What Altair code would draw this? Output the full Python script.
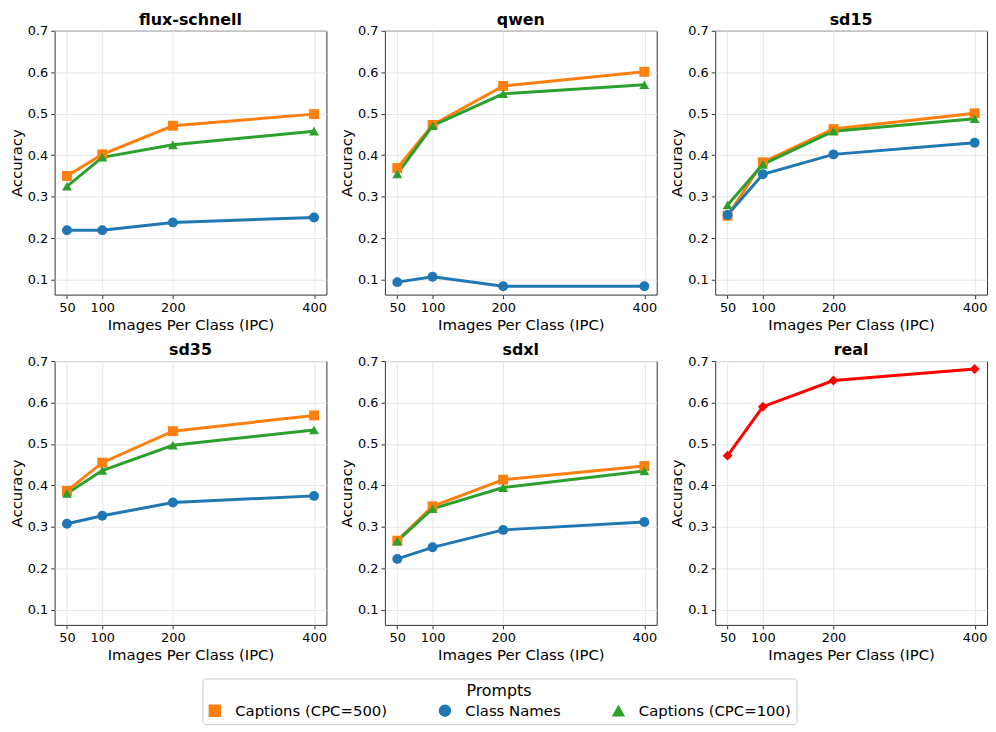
import altair as alt
import pandas as pd

ipc = [50, 100, 200, 400]
models = ["flux-schnell", "qwen", "sd15", "sd35", "sdxl", "real"]
prompts = ["Captions (CPC=500)", "Class Names", "Captions (CPC=100)"]
real_name = "Real"
colors = ["#ff7f0e", "#1f77b4", "#2ca02c", "#ff0000"]

# Captions (CPC=500)
cap500_flux = [0.350, 0.402, 0.471, 0.499]
cap500_qwen = [0.369, 0.473, 0.567, 0.601]
cap500_sd15 = [0.254, 0.383, 0.463, 0.501]
cap500_sd35 = [0.387, 0.455, 0.531, 0.569]
cap500_sdxl = [0.267, 0.350, 0.414, 0.447]

# Class Names
names_flux = [0.219, 0.219, 0.238, 0.250]
names_qwen = [0.094, 0.107, 0.084, 0.084]
names_sd15 = [0.256, 0.354, 0.402, 0.430]
names_sd35 = [0.308, 0.327, 0.359, 0.375]
names_sdxl = [0.223, 0.251, 0.293, 0.312]

# Captions (CPC=100)
cap100_flux = [0.325, 0.395, 0.425, 0.458]
cap100_qwen = [0.355, 0.471, 0.548, 0.570]
cap100_sd15 = [0.280, 0.378, 0.458, 0.488]
cap100_sd35 = [0.381, 0.436, 0.497, 0.534]
cap100_sdxl = [0.266, 0.344, 0.395, 0.435]

# Real images
real_acc = [0.472, 0.590, 0.653, 0.681]

series = {
    "flux-schnell": [cap500_flux, names_flux, cap100_flux],
    "qwen": [cap500_qwen, names_qwen, cap100_qwen],
    "sd15": [cap500_sd15, names_sd15, cap100_sd15],
    "sd35": [cap500_sd35, names_sd35, cap100_sd35],
    "sdxl": [cap500_sdxl, names_sdxl, cap100_sdxl],
}

rows = []
for m, vals in series.items():
    for p, arr in zip(prompts, vals):
        for x, v in zip(ipc, arr):
            rows.append({"model": m, "prompt": p, "ipc": x, "acc": v})
for x, v in zip(ipc, real_acc):
    rows.append({"model": "real", "prompt": real_name, "ipc": x, "acc": v})
df = pd.DataFrame(rows)

color_scale = alt.Scale(domain=prompts + [real_name], range=colors)
shape_scale = alt.Scale(domain=prompts + [real_name],
                        range=["square", "circle", "triangle-up", "diamond"])

legend = alt.Legend(
    title="Prompts", values=prompts, orient="none", direction="horizontal",
    legendX=149, legendY=653, titleAnchor="middle", titlePadding=4,
    labelOffset=13, columnPadding=49, padding=5, symbolSize=120,
)

xenc = alt.X("ipc:Q", scale=alt.Scale(domain=[32.5, 417.5], nice=False, zero=False),
             axis=alt.Axis(values=ipc, format="d", title="Images Per Class (IPC)"))
yenc = alt.Y("acc:Q", scale=alt.Scale(domain=[0.064, 0.7], nice=False, zero=False),
             axis=alt.Axis(values=[0.1, 0.2, 0.3, 0.4, 0.5, 0.6, 0.7], format=".1f",
                           title="Accuracy"))


def panel(m):
    base = alt.Chart(df[df["model"] == m])
    line = base.mark_line(strokeWidth=3).encode(
        x=xenc, y=yenc,
        color=alt.Color("prompt:N", scale=color_scale, legend=legend),
        detail="prompt:N",
    )
    pts = base.mark_point(filled=True, size=100, opacity=1).encode(
        x=xenc, y=yenc,
        color=alt.Color("prompt:N", scale=color_scale, legend=legend),
        shape=alt.Shape("prompt:N", scale=shape_scale, legend=legend),
    )
    return alt.layer(line, pts).properties(
        width=274, height=266,
        title=alt.TitleParams(m, fontSize=16, fontWeight="bold", offset=-3),
    )


row1 = alt.hconcat(*[panel(m) for m in models[:3]], spacing=11)
row2 = alt.hconcat(*[panel(m) for m in models[3:]], spacing=11)

chart = alt.vconcat(row1, row2, spacing=8).properties(padding=0).configure(
    font="DejaVu Sans"
).configure_view(
    stroke="#333333", strokeWidth=1
).configure_axis(
    domain=False, labelFontSize=13, titleFontSize=15, titleFontWeight="normal",
    labelColor="black", titleColor="black", tickColor="#333333", tickSize=4,
    labelPadding=3, titlePadding=3, gridColor="#e6e6e6", gridWidth=1,
).configure_legend(
    titleFontSize=16, titleFontWeight="normal", labelFontSize=15,
    strokeColor="#cccccc", cornerRadius=3,
    labelColor="black", titleColor="black",
).configure_title(color="black")

chart.save("out.html", embed_options={"renderer": "svg", "actions": False})
